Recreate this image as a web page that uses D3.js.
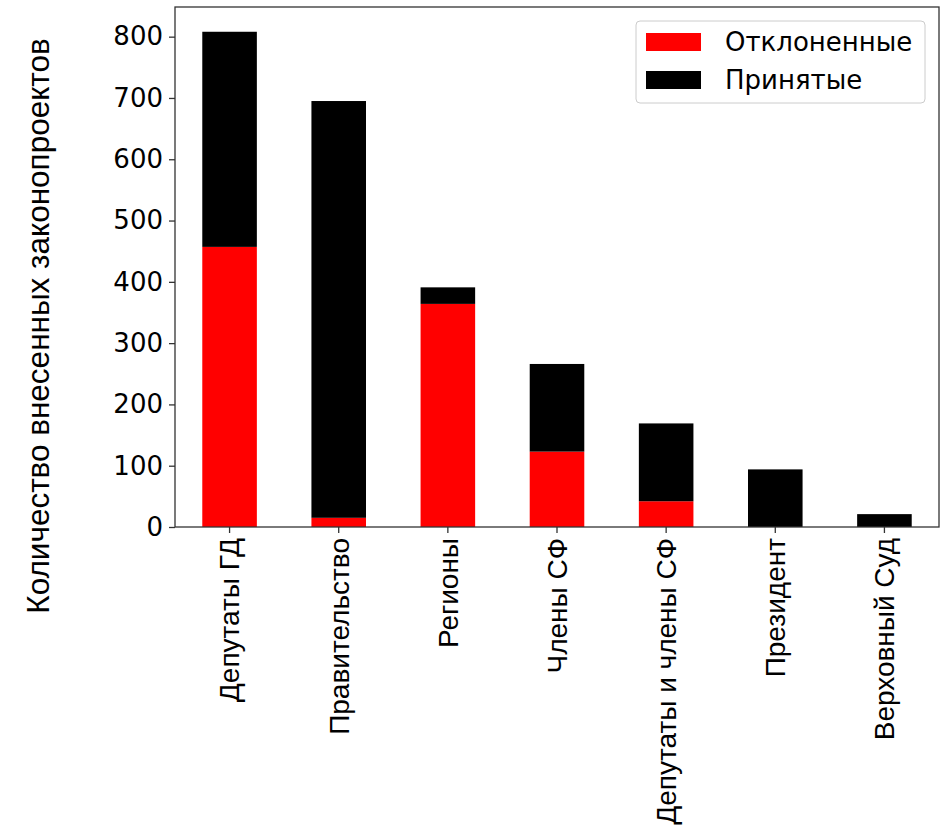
<!DOCTYPE html>
<html>
<head>
<meta charset="utf-8">
<script src="https://cdn.jsdelivr.net/npm/d3@7"></script>
<style>
  body { margin: 0; background: #fff; }
  .y-axis text { font-family: "DejaVu Sans", sans-serif; font-size: 26px; fill: #000; }
  .x-axis text { font-family: "Liberation Sans", Arial, sans-serif; font-size: 28px; fill: #000; }
  .axis path, .axis line { stroke: #333; stroke-width: 1.3; }
</style>
</head>
<body>
<div id="chart"></div>
<script>
// data
const categories = ["Депутаты ГД", "Правительство", "Регионы", "Члены СФ",
    "Депутаты и члены СФ", "Президент", "Верховный Суд"];
const rejected = [457, 15, 364, 123, 42, 0, 0];
const accepted = [351, 680, 27, 143, 127, 94, 21];
const seriesNames = ["Отклоненные", "Принятые"];
const seriesColors = ["#ff0000", "#000000"];
const yTicks = [0, 100, 200, 300, 400, 500, 600, 700, 800];

const margin = {top: 7, right: 6, bottom: 302, left: 175};
const width = 945 - margin.left - margin.right,
    height = 829 - margin.top - margin.bottom;

const svg = d3.select("#chart").append("svg")
    .attr("width", 945)
    .attr("height", 829)
    .append("g")
    .attr("transform", "translate(" + margin.left + "," + margin.top + ")");

let rows = categories.map((c, i) => ({cat: c, "Отклоненные": rejected[i], "Принятые": accepted[i]}));
let stacked = d3.stack().keys(seriesNames)(rows);

let x = d3.scaleBand()
    .domain(categories)
    .range([0, width])
    .paddingInner(0.5)
    .paddingOuter(0.25);

let y = d3.scaleLinear()
    .domain([0, 848.4])
    .range([height, 0]);

// bars
svg.selectAll(".layer")
    .data(stacked)
    .enter().append("g")
    .attr("class", "layer")
    .attr("fill", (d, i) => seriesColors[i])
    .selectAll("rect")
    .data(d => d)
    .enter().append("rect")
    .attr("x", d => x(d.data.cat))
    .attr("y", d => y(d[1]))
    .attr("width", x.bandwidth())
    .attr("height", d => y(d[0]) - y(d[1]));

// frame
svg.append("rect")
    .attr("width", width)
    .attr("height", height)
    .attr("fill", "none")
    .attr("stroke", "#333")
    .attr("stroke-width", 1.3);

// axes
let yAxis = d3.axisLeft(y).tickValues(yTicks).tickSize(6).tickPadding(6);
svg.append("g").attr("class", "y-axis axis").call(yAxis)
    .select(".domain").remove();

let xAxis = d3.axisBottom(x).tickSize(6).tickPadding(6);
let xg = svg.append("g").attr("class", "x-axis axis")
    .attr("transform", `translate(0,${height})`)
    .call(xAxis);
xg.select(".domain").remove();
xg.selectAll("text")
    .attr("transform", "rotate(-90)")
    .attr("text-anchor", "end")
    .attr("x", -11)
    .attr("y", 0)
    .attr("dy", "0.35em");

// y label
svg.append("text")
    .attr("transform", "rotate(-90)")
    .attr("x", -(326 - margin.top))
    .attr("y", 49 - margin.left)
    .attr("text-anchor", "middle")
    .style("font-family", "'Liberation Sans', Arial, sans-serif")
    .style("font-size", "31.5px")
    .text("Количество внесенных законопроектов");

// legend
let legend = svg.append("g").attr("transform", `translate(${636 - margin.left},${21 - margin.top})`);
legend.append("rect")
    .attr("width", 289).attr("height", 82)
    .attr("rx", 4)
    .attr("fill", "#fff").attr("fill-opacity", 0.8)
    .attr("stroke", "#ccc");
seriesNames.forEach((s, i) => {
    legend.append("rect")
        .attr("x", 10).attr("y", 12 + i * 38)
        .attr("width", 55).attr("height", 18)
        .attr("fill", seriesColors[i]);
    legend.append("text")
        .attr("x", 89).attr("y", 21 + i * 38)
        .attr("dy", "0.35em")
        .style("font-family", "'DejaVu Sans', sans-serif")
        .style("font-size", "26px")
        .text(s);
});
</script>
</body>
</html>
